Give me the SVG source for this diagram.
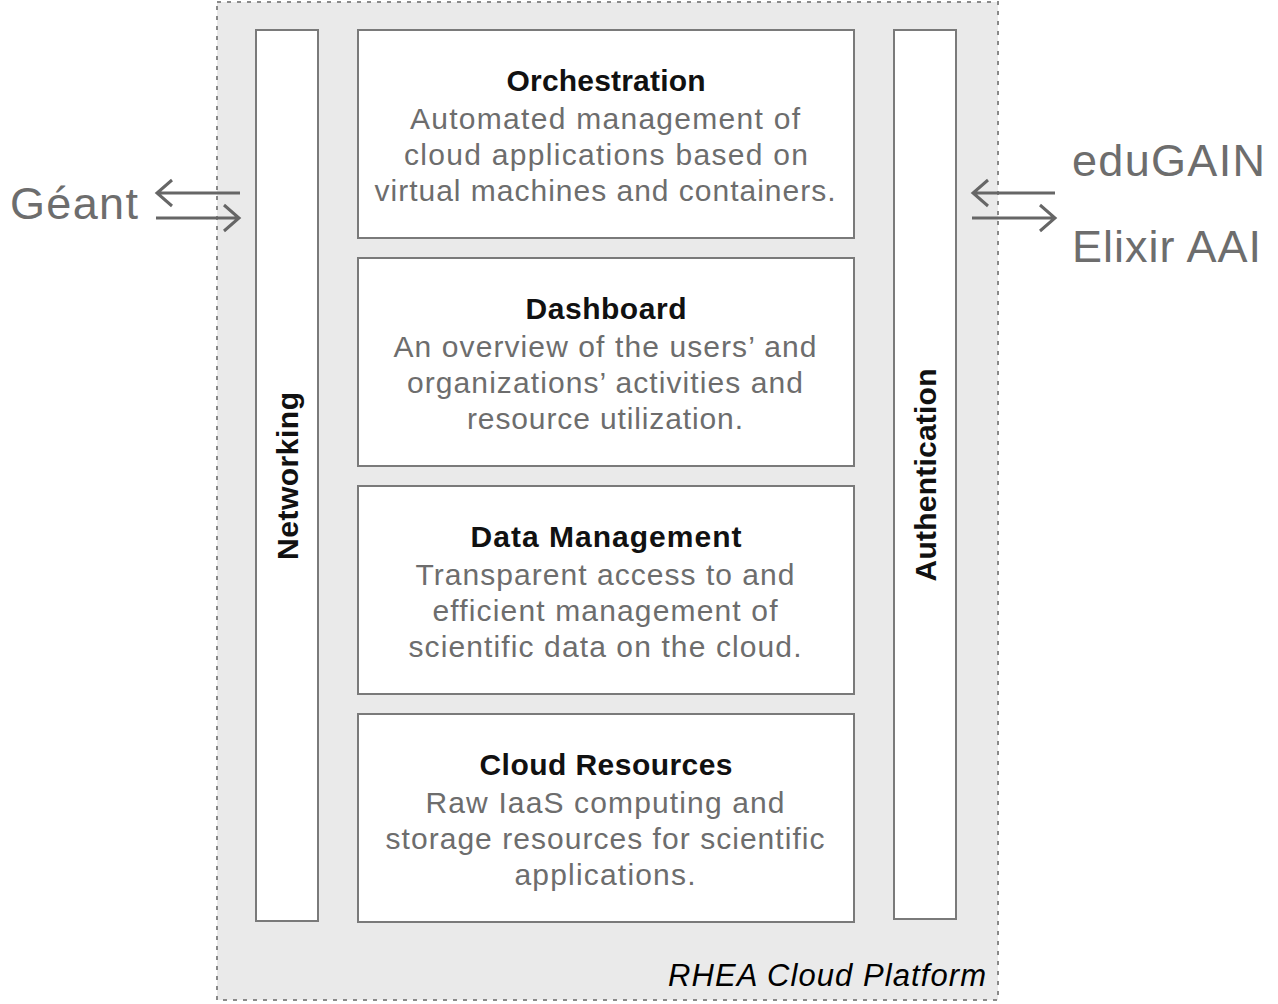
<svg xmlns="http://www.w3.org/2000/svg" width="1278" height="1004" viewBox="0 0 1278 1004">
<style>
.box{fill:#fff;stroke:#7a7a7a;stroke-width:2}
.t{font-family:"Liberation Sans",Arial,sans-serif;font-size:30px;font-weight:bold;fill:#111;text-anchor:middle}
.d{font-family:"Liberation Sans",Arial,sans-serif;font-size:30px;fill:#6d6d6d;text-anchor:middle}
.big{font-family:"Liberation Sans",Arial,sans-serif;font-size:45px;fill:#6d6d6d}
.ar{fill:none;stroke:#666;stroke-width:3}
</style>
<rect width="1278" height="1004" fill="#fff"/>
<g id="platform">
<rect x="217" y="2" width="781" height="998" fill="#eaeaea" stroke="#8a8a8a" stroke-width="2" stroke-dasharray="4,6"/>
<text x="986" y="986" font-family="'Liberation Sans',Arial,sans-serif" font-size="31" font-style="italic" text-anchor="end" fill="#000" textLength="318" lengthAdjust="spacing">RHEA Cloud Platform</text>
</g>
<g id="networking">
<rect class="box" x="256" y="30" width="62" height="891"/>
<text class="t" transform="translate(298,476) rotate(-90)" textLength="168" lengthAdjust="spacing">Networking</text>
</g>
<g id="authentication">
<rect class="box" x="894" y="30" width="62" height="889"/>
<text class="t" transform="translate(936,475) rotate(-90)" textLength="213" lengthAdjust="spacing">Authentication</text>
</g>
<g id="orchestration">
<rect class="box" x="358" y="30" width="496" height="208"/>
<text class="t" x="606" y="91" textLength="199" lengthAdjust="spacing">Orchestration</text>
<text class="d" x="605" y="129" textLength="390" lengthAdjust="spacing">Automated management of</text>
<text class="d" x="606" y="165" textLength="404" lengthAdjust="spacing">cloud applications based on</text>
<text class="d" x="605" y="201" textLength="461" lengthAdjust="spacing">virtual machines and containers.</text>
</g>
<g id="dashboard">
<rect class="box" x="358" y="258" width="496" height="208"/>
<text class="t" x="606" y="319" textLength="161" lengthAdjust="spacing">Dashboard</text>
<text class="d" x="605" y="357" textLength="423" lengthAdjust="spacing">An overview of the users’ and</text>
<text class="d" x="605" y="393" textLength="396" lengthAdjust="spacing">organizations’ activities and</text>
<text class="d" x="605" y="429" textLength="276" lengthAdjust="spacing">resource utilization.</text>
</g>
<g id="datamanagement">
<rect class="box" x="358" y="486" width="496" height="208"/>
<text class="t" x="606" y="547" textLength="271" lengthAdjust="spacing">Data Management</text>
<text class="d" x="605" y="585" textLength="379" lengthAdjust="spacing">Transparent access to and</text>
<text class="d" x="605" y="621" textLength="345" lengthAdjust="spacing">efficient management of</text>
<text class="d" x="605" y="657" textLength="393" lengthAdjust="spacing">scientific data on the cloud.</text>
</g>
<g id="cloudresources">
<rect class="box" x="358" y="714" width="496" height="208"/>
<text class="t" x="606" y="775" textLength="253" lengthAdjust="spacing">Cloud Resources</text>
<text class="d" x="605" y="813" textLength="359" lengthAdjust="spacing">Raw IaaS computing and</text>
<text class="d" x="605" y="849" textLength="439" lengthAdjust="spacing">storage resources for scientific</text>
<text class="d" x="605" y="885" textLength="181" lengthAdjust="spacing">applications.</text>
</g>
<g id="geant"><text class="big" x="10" y="219" textLength="128" lengthAdjust="spacing">Géant</text></g>
<g id="edugain"><text class="big" x="1072" y="176" textLength="193" lengthAdjust="spacing">eduGAIN</text></g>
<g id="elixir"><text class="big" x="1072" y="262" textLength="189" lengthAdjust="spacing">Elixir AAI</text></g>
<g id="connectors">
<path class="ar" d="M240,193 H157 M172,180 L157,193 L172,206"/>
<path class="ar" d="M156,218 H239 M224,205 L239,218 L224,231"/>
<path class="ar" d="M1055,193 H973 M988,180 L973,193 L988,206"/>
<path class="ar" d="M972,218 H1055 M1040,205 L1055,218 L1040,231"/>
</g>
</svg>
